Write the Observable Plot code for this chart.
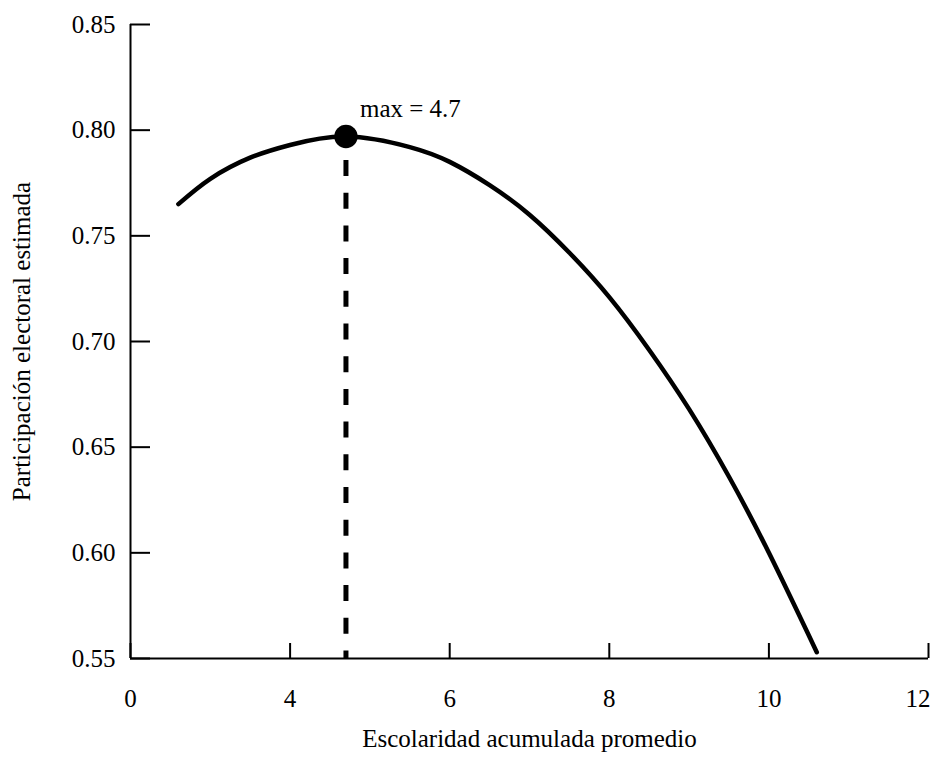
<!DOCTYPE html>
<html>
<head>
<meta charset="utf-8">
<script src="https://cdn.jsdelivr.net/npm/d3@7"></script>
<script src="https://cdn.jsdelivr.net/npm/@observablehq/plot@0.6"></script>
<style>
  html, body { margin: 0; padding: 0; background: #fff; }
  #chart svg { display: block; }
  #chart svg text { font-family: 'Liberation Serif', 'DejaVu Serif', serif !important; }
</style>
</head>
<body>
<div id="chart"></div>
<script>
// Data
const escolaridad   = [2.6, 3.0, 3.5, 4.0, 4.7, 5.5, 6.0, 6.5, 7.0, 7.5, 8.0, 8.5, 9.0, 9.5, 10.0, 10.6];
const participacion = [0.765, 0.777, 0.787, 0.793, 0.797, 0.792, 0.785, 0.774, 0.760, 0.742, 0.721, 0.696, 0.668, 0.636, 0.600, 0.553];
const maxEscolaridad = [4.7];
const maxParticipacion = [0.797];
const maxLabel = ["max = 4.7"];
const xDomain = [2, 12];
const yDomain = [0.55, 0.85];
const xTickValues = [2, 4, 6, 8, 10, 12];
const xTickLabels = ["0", "4", "6", "8", "10", "12"];
const yTickValues = [0.55, 0.60, 0.65, 0.70, 0.75, 0.80, 0.85];
const xTitle = "Escolaridad acumulada promedio";
const yTitle = "Participación electoral estimada";

const curve = escolaridad.map((x, i) => ({x, y: participacion[i]}));
const maxPoint = maxEscolaridad.map((x, i) => ({x, y: maxParticipacion[i], label: maxLabel[i]}));
const xTicks = xTickValues.map((v, i) => ({v, label: xTickLabels[i]}));
const lastTick = xTicks.length - 1;

const W = 933, H = 760;
const mL = 130, mR = 5, mT = 24, mB = 102;
const innerW = W - mL - mR, innerH = H - mT - mB;
const FS = 25;
const FF = "'Liberation Serif', 'DejaVu Serif', serif";

const chart = Plot.plot({
  width: W,
  height: H,
  marginLeft: mL,
  marginRight: mR,
  marginTop: mT,
  marginBottom: mB,
  style: {fontFamily: FF, fontSize: FS + "px", color: "#000", background: "#fff"},
  x: {
    domain: xDomain,
    axis: null
  },
  y: {
    domain: yDomain,
    ticks: yTickValues,
    tickFormat: d3.format(".2f"),
    tickSize: 0,
    tickPadding: 15,
    label: null
  },
  marks: [
    // axis lines
    Plot.ruleX([xDomain[0]], {stroke: "#000", strokeWidth: 2}),
    Plot.ruleY([yDomain[0]], {stroke: "#000", strokeWidth: 2}),
    // inward ticks
    Plot.tickY(yTickValues, {y: d => d, stroke: "#000", strokeWidth: 2, insetRight: innerW - 20}),
    Plot.tickX(xTickValues, {x: d => d, stroke: "#000", strokeWidth: 2, insetTop: innerH - 15}),
    // x tick labels
    Plot.text(xTicks.filter((d, i) => i < lastTick), {x: "v", text: "label", frameAnchor: "bottom",
      lineAnchor: "top", dy: 31, fontSize: FS, fontFamily: FF, fill: "#000"}),
    Plot.text(xTicks.filter((d, i) => i === lastTick), {x: "v", text: "label", frameAnchor: "bottom",
      lineAnchor: "top", textAnchor: "end", dy: 31, dx: 2, fontSize: FS, fontFamily: FF, fill: "#000"}),
    // dashed vertical at the maximum
    Plot.ruleX(maxPoint, {x: "x", y1: "y", y2: () => yDomain[0], stroke: "#000", strokeWidth: 5,
      strokeDasharray: "16,16.7", strokeDashoffset: 8.7}),
    // curve
    Plot.line(curve, {x: "x", y: "y", stroke: "#000", strokeWidth: 4.5, curve: "natural",
      strokeLinecap: "round", strokeLinejoin: "round"}),
    // max point
    Plot.dot(maxPoint, {x: "x", y: "y", r: 11.7, fill: "#000", stroke: "none"}),
    Plot.text(maxPoint, {x: "x", y: "y", text: "label", textAnchor: "start", dx: 14, dy: -27.5,
      fontSize: FS, fontFamily: FF, fill: "#000"}),
    // axis titles
    Plot.text([xTitle], {frameAnchor: "bottom", text: d => d, textAnchor: "middle", dy: 88,
      fontSize: FS, fontFamily: FF, fill: "#000"}),
    Plot.text([yTitle], {frameAnchor: "left", text: d => d, textAnchor: "middle", rotate: -90, dx: -109,
      fontSize: FS, fontFamily: FF, fill: "#000"})
  ]
});

document.getElementById("chart").appendChild(chart);
</script>
</body>
</html>
